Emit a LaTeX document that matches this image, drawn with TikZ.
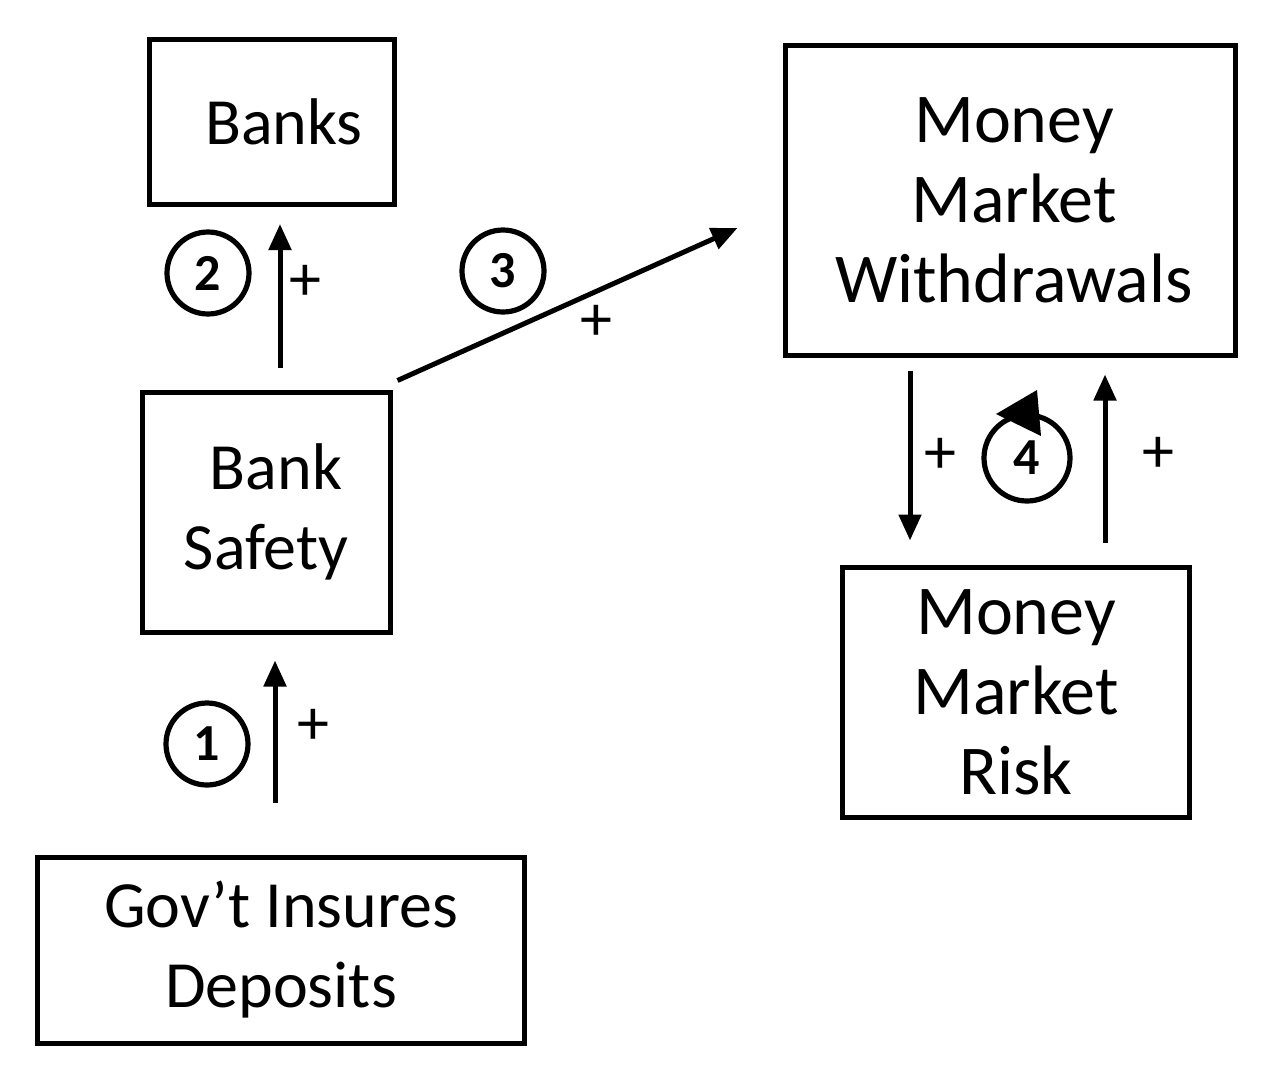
\documentclass[tikz,border=0pt]{standalone}
\usepackage{fontspec}
\setmainfont{Carlito}
\usetikzlibrary{arrows.meta}
\begin{document}
\begin{tikzpicture}[x=0.5pt,y=-0.5pt,
  box/.style={draw, line width=2.5pt, rectangle, inner sep=0pt, align=center},
  lft/.style={font=\fontsize{33}{40}\selectfont},
  rgt/.style={font=\fontsize{35}{40}\selectfont},
  arr/.style={line width=2.5pt, -{Triangle[length=13pt,width=11pt]}},
  num/.style={draw, circle, line width=2.6pt, minimum size=41pt, inner sep=0pt, font=\fontsize{26}{26}\selectfont\bfseries},
  plus/.style={font=\fontsize{32}{32}\selectfont, inner sep=0pt}]
\useasboundingbox (0,0) rectangle (1274,1072);
\node[box, lft, minimum width=122.5pt, minimum height=82.5pt] (banks) at (272,122) {\hspace*{12pt}Banks};
\node[box, rgt, minimum width=225pt, minimum height=155pt] (mmw) at (1010,200) {\hspace*{4pt}Money\\\hspace*{4pt}Market\\\hspace*{4pt}Withdrawals};
\node[box, lft, minimum width=124pt, minimum height=120pt] (safety) at (266,512) {\hspace*{10pt}Bank\\Safety};
\node[box, rgt, minimum width=173.5pt, minimum height=125pt] (mmr) at (1016,692) {Money\\Market\\Risk};
\node[box, lft, minimum width=243.5pt, minimum height=93pt] (gov) at (281,950) {Gov’t Insures\\Deposits};

\draw[arr] ([xshift=-3pt,yshift=26pt]gov.north) -- node[plus, pos=0.53, xshift=19pt] (p1) {+} ([xshift=4.5pt,yshift=-13pt]safety.south);
\draw[arr] ([xshift=7pt,yshift=11pt]safety.north) -- node[plus, pos=0.59, xshift=12.5pt] (p2) {+} ([xshift=4pt,yshift=-8.5pt]banks.south);
\draw[arr] ([xshift=2.5pt,yshift=4.5pt]safety.north east) -- node[plus, pos=0.585, yshift=-16pt] (p3) {+} ([xshift=-22.5pt,yshift=-14pt]mmw.west);
\draw[arr] ([xshift=-50pt,yshift=-6.5pt]mmw.south) -- node[plus, pos=0.5, xshift=15pt] (p4) {+} ([xshift=-53pt,yshift=12pt]mmr.north);
\draw[arr] ([xshift=44.5pt,yshift=11pt]mmr.north) -- node[plus, pos=0.52, xshift=26.5pt] (p5) {+} ([xshift=47.5pt,yshift=-8.5pt]mmw.south);

\node[num] (n1) at (207,744) {1};
\node[num] (n2) at (208,273) {2};
\node[num] (n3) at (503,271) {3};
\node[num, minimum size=43pt] (n4) at (1027,458) {4};
\fill (996,414) -- (1037,390) -- (1041,436) -- cycle;
\end{tikzpicture}
\end{document}
